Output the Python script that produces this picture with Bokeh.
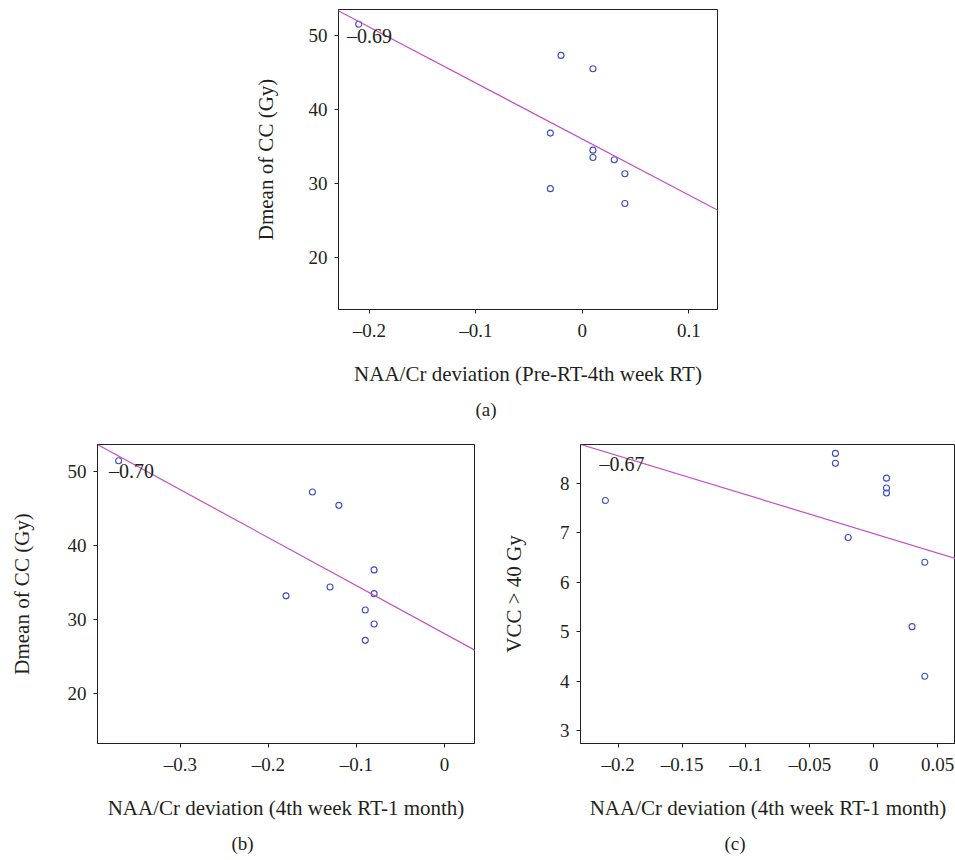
from bokeh.plotting import figure
from bokeh.layouts import column, row
from bokeh.models import Spacer, Slope, Title, FixedTicker, Label, Range1d
from bokeh.embed import file_html
from bokeh.resources import INLINE

# ---------------- data ----------------
a_x = [-0.21, -0.02, 0.01, -0.03, 0.01, 0.01, 0.03, -0.03, 0.04, 0.04]
a_y = [51.5, 47.3, 45.5, 36.8, 34.5, 33.5, 33.2, 29.3, 31.3, 27.3]
a_fit = (-75.6, 36.0)          # gradient, intercept
a_r = "\u20130.69"

b_x = [-0.37, -0.15, -0.12, -0.08, -0.13, -0.18, -0.08, -0.09, -0.08, -0.09]
b_y = [51.4, 47.2, 45.4, 36.7, 34.4, 33.2, 33.5, 31.3, 29.4, 27.2]
b_fit = (-64.7, 28.1)
b_r = "\u20130.70"

c_x = [-0.21, -0.03, -0.03, 0.01, 0.01, 0.01, -0.02, 0.04, 0.03, 0.04]
c_y = [7.65, 8.6, 8.4, 8.1, 7.9, 7.8, 6.9, 6.4, 5.1, 4.1]
c_fit = (-7.85, 6.98)
c_r = "\u20130.67"

a_xticks = [-0.2, -0.1, 0, 0.1]
a_xlabels = ["\u20130.2", "\u20130.1", "0", "0.1"]
b_xticks = [-0.3, -0.2, -0.1, 0]
b_xlabels = ["\u20130.3", "\u20130.2", "\u20130.1", "0"]
c_xticks = [-0.2, -0.15, -0.1, -0.05, 0, 0.05]
c_xlabels = ["\u20130.2", "\u20130.15", "\u20130.1", "\u20130.05", "0", "0.05"]
dose_yticks = [20, 30, 40, 50]
vcc_yticks = [3, 4, 5, 6, 7, 8]

x_title_a = "NAA/Cr deviation (Pre-RT-4th week RT)"
x_title_bc = "NAA/Cr deviation (4th week RT-1 month)"
y_title_dose = "Dmean of CC (Gy)"
y_title_vcc = "VCC > 40 Gy"

# ---------------- style ----------------
FONT = "Liberation Serif"
INK = "#231f20"
PT = "#3b4cc0"
LN = "#c44ec4"


def make(xr, yr, xs, ys, fit, rtxt, rpos, xticks, xlabels, yticks, xtitle, ytitle,
         caption, cap_off, fw, fh, mb, ylab_standoff):
    p = figure(x_range=Range1d(*xr), y_range=Range1d(*yr), frame_width=fw, frame_height=fh,
               output_backend="svg", toolbar_location=None,
               min_border_left=mb[0], min_border_right=mb[1],
               min_border_top=mb[2], min_border_bottom=mb[3])
    p.grid.visible = False
    p.outline_line_color = INK
    p.outline_line_width = 1
    p.background_fill_color = "white"
    p.border_fill_color = "white"
    for ax in (p.xaxis[0], p.yaxis[0]):
        ax.axis_line_color = INK
        ax.major_tick_line_color = INK
        ax.major_tick_in = 0
        ax.major_tick_out = 4
        ax.minor_tick_line_color = None
        ax.major_label_text_font = FONT
        ax.major_label_text_font_size = "19px"
        ax.major_label_text_color = INK
        ax.axis_label_text_font = FONT
        ax.axis_label_text_font_size = "21px"
        ax.axis_label_text_font_style = "normal"
        ax.axis_label_text_color = INK
    p.xaxis.ticker = FixedTicker(ticks=xticks)
    p.xaxis.major_label_overrides = {t: l for t, l in zip(xticks, xlabels)}
    p.yaxis.ticker = FixedTicker(ticks=yticks)
    p.xaxis.axis_label = xtitle
    p.yaxis.axis_label = ytitle
    p.xaxis.major_label_standoff = 6
    p.xaxis.axis_label_standoff = 18
    p.yaxis.major_label_standoff = 7
    p.yaxis.axis_label_standoff = ylab_standoff

    p.add_layout(Slope(gradient=fit[0], y_intercept=fit[1], line_color=LN, line_width=1.2))
    p.scatter(xs, ys, marker="circle", size=6, fill_color=None, line_color=PT, line_width=1.1)
    p.add_layout(Label(x=rpos[0], y=rpos[1], text=rtxt, text_font=FONT, text_font_size="20px",
                       text_color=INK, text_baseline="middle", text_align="left"))
    p.add_layout(Title(text=caption, align="left", offset=cap_off, text_font=FONT,
                       text_font_size="19px", text_font_style="normal", text_color=INK,
                       standoff=17), "below")
    return p


pa = make((-0.229, 0.127), (12.97, 53.5), a_x, a_y, a_fit, a_r, (-0.221, 49.9),
          a_xticks, a_xlabels, dose_yticks, x_title_a, y_title_dose, "(a)", 137,
          379, 300, (110, 10, 9, 118), 28)
pb = make((-0.394, 0.034), (13.3, 53.6), b_x, b_y, b_fit, b_r, (-0.381, 50.0),
          b_xticks, b_xlabels, dose_yticks, x_title_bc, y_title_dose, "(b)", 134,
          377, 299, (97, 16, 16, 117), 31)
pc = make((-0.2295, 0.064), (2.74, 8.78), c_x, c_y, c_fit, c_r, (-0.2147, 8.39),
          c_xticks, c_xlabels, vcc_yticks, x_title_bc, y_title_vcc, "(c)", 144,
          375, 299, (90, 0, 16, 117), 31)

layout = column(row(Spacer(width=228, height=10), pa), row(pb, pc))

open("out.html", "w").write(file_html(layout, INLINE))
